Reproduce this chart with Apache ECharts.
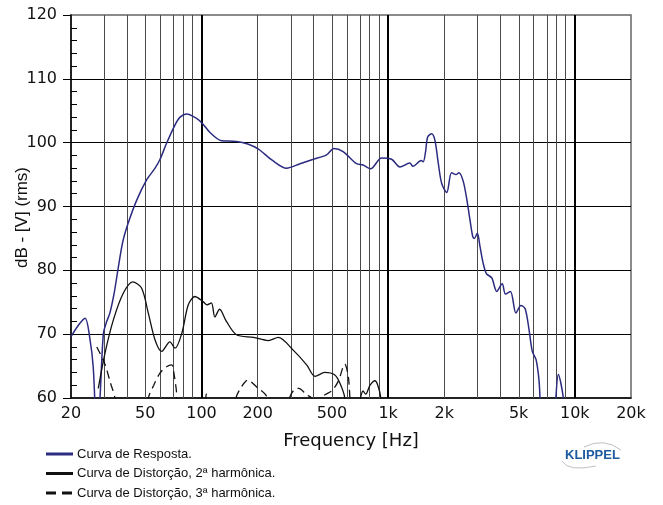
<!DOCTYPE html>
<html>
<head>
<meta charset="utf-8">
<script src="https://cdn.jsdelivr.net/npm/echarts@6/dist/echarts.min.js"></script>
<style>
  html, body { margin: 0; padding: 0; background: #fff; }
  #chart { width: 663px; height: 505px; }
</style>
</head>
<body>
<div id="chart"></div>
<script>
// ---- Data ----
const xTickFreqs = [20, 50, 100, 200, 500, 1000, 2000, 5000, 10000, 20000];
const xTickLabels = ['20', '50', '100', '200', '500', '1k', '2k', '5k', '10k', '20k'];
const gridFreqs = [30, 40, 50, 60, 70, 80, 90, 100, 200, 300, 400, 500, 600, 700, 800, 900,
                   1000, 2000, 3000, 4000, 5000, 6000, 7000, 8000, 9000, 10000];
const decadeFreqs = [100, 1000, 10000];

const respFreq = [20, 21.9, 23.8, 25.3, 26.3, 27.0, 27.7, 28.6, 29.8, 30.9, 32.3, 34.1, 35.9, 37.9, 40.5,
  45, 50.9, 56.4, 60, 65, 72.2, 76.8, 83.3, 94.2, 102, 111, 128, 154, 177, 202, 238, 286, 337, 398,
  468, 512, 574, 677, 734, 806, 922, 1044, 1156, 1306, 1358, 1504, 1542, 1587, 1628, 1710, 1780, 1856,
  1936, 2060, 2186, 2310, 2392, 2528, 2660, 2744, 2838, 2894, 3004, 3106, 3230, 3360, 3592, 3816,
  4084, 4250, 4520, 4840, 5140, 5420, 5680, 5920, 6200, 6420, 6510, 6700, 7700, 7926, 8160, 8680, 9100];
const respDb = [69.6, 71.4, 72.5, 69.1, 64.9, 58, 54, 60, 70, 71.8, 73.3, 76.5, 80.6, 84.5, 87.4,
  91.0, 94.2, 96.0, 97.4, 99.9, 102.8, 104.0, 104.5, 103.8, 102.9, 101.6, 100.3, 100.2, 99.8, 99.0, 97.3, 96.0, 96.7, 97.4,
  98.1, 99.1, 98.6, 96.7, 96.5, 95.9, 97.6, 97.4, 96.2, 96.8, 96.3, 97.2, 97.0, 98.6, 100.9, 101.4, 100.4, 96.8,
  93.6, 92.2, 95.3, 95.0, 95.3, 93.9, 90.5, 87.9, 85.3, 85.0, 85.8, 83.7, 81.1, 79.5, 78.8, 76.7,
  77.9, 76.3, 76.7, 73.3, 74.5, 74.0, 70.8, 67.3, 66.0, 63.0, 60.0, 52, 52, 60.2, 63.7, 60, 52];

const h2Freq = [28.0, 30.4, 33.7, 38.1, 42.8, 47.8, 51.9, 56.4, 61.2, 67.7, 72.2, 78.4, 85, 92.2, 102,
  107, 113, 118, 125, 136, 154, 190, 228, 258, 310, 366, 406, 458, 518, 552, 586, 610, 690, 712,
  734, 758, 800, 850, 880, 914, 950];
const h2Db = [61.5, 67.0, 72.2, 76.4, 78.2, 77.2, 73.3, 69.1, 67.3, 68.8, 67.8, 70.1, 74.6, 75.9, 75.1,
  74.6, 74.9, 72.7, 73.9, 72.0, 69.9, 69.5, 69.0, 69.5, 67.5, 65.2, 63.4, 64.0, 63.6, 62.3, 60, 54, 54, 60,
  61.1, 60.6, 62.0, 62.7, 62.0, 60, 54];

const h3Freq = [27.5, 28.6, 30.4, 32.6, 34.4, 35.5, 49, 51.9, 55.5, 59.9, 65, 69.2, 71.5, 73.6, 75,
  103, 106, 109, 148, 153, 165, 177, 198, 224, 235, 285, 298, 317, 332, 366, 389, 410, 430, 441,
  498, 540, 574, 586, 612, 624, 640];
const h3Db = [68.0, 67.0, 65.3, 62.3, 60, 55, 55, 60, 62.0, 63.9, 64.9, 65.2, 63.5, 60.7, 55,
  57, 60.6, 57, 55, 60, 61.9, 62.8, 61.7, 60.2, 56, 56, 60.2, 61.4, 61.5, 60.5, 60, 58, 58, 60.1,
  61.1, 62.6, 64.9, 65.3, 63.3, 60, 55];

const seriesNames = ['Curva de Resposta.', 'Curva de Distorção, 2ª harmônica.', 'Curva de Distorção, 3ª harmônica.'];

// ---- Build ----
const toXY = (fs, ds) => fs.map((f, i) => [Math.log10(f), ds[i]]);
const tickFont = 'DejaVu Sans';
const textFont = 'Liberation Sans, Arial, sans-serif';
const colors = ['#2b2b80', '#111', '#111'];
const dashes = ['solid', 'solid', [10, 6]];

const chart = echarts.init(document.getElementById('chart'), null, { renderer: 'canvas' });

// legend drawn as graphic items (line sample + text) for exact placement
const legendGraphics = [];
seriesNames.forEach((name, i) => {
  const y = 454 + i * 19.5;
  legendGraphics.push({
    type: 'line',
    shape: { x1: 46, y1: y, x2: 73, y2: y },
    style: { stroke: colors[i], lineWidth: 3, lineDash: dashes[i] === 'solid' ? null : dashes[i] }
  });
  legendGraphics.push({
    type: 'text',
    x: 77, y: y,
    style: { text: name, fontFamily: textFont, fontSize: 13, fill: '#111', verticalAlign: 'middle', align: 'left' }
  });
});

chart.setOption({
  animation: false,
  backgroundColor: '#fff',
  grid: { left: 71, right: 32, top: 15, bottom: 107, containLabel: false, outerBoundsMode: 'none',
          show: true, borderColor: '#666', borderWidth: 1.5, backgroundColor: 'transparent' },
  xAxis: {
    type: 'value',
    min: Math.log10(20),
    max: Math.log10(20000),
    axisLine: { show: true, onZero: false, lineStyle: { color: '#000', width: 1.5 } },
    axisTick: { show: false },
    splitLine: { show: false },
    axisLabel: {
      customValues: xTickFreqs.map(f => Math.log10(f)),
      formatter: function (v) {
        let best = 0, bd = Infinity;
        xTickFreqs.forEach((f, i) => { const d = Math.abs(Math.log10(f) - v); if (d < bd) { bd = d; best = i; } });
        return xTickLabels[best];
      },
      margin: 8,
      fontFamily: tickFont,
      fontSize: 16,
      color: '#111'
    },
    name: 'Frequency [Hz]',
    nameLocation: 'middle',
    nameGap: 34,
    nameMoveOverlap: false,
    nameTextStyle: { fontFamily: tickFont, fontSize: 18, color: '#111' }
  },
  yAxis: {
    type: 'value',
    min: 60,
    max: 120,
    interval: 10,
    axisLine: { show: true, lineStyle: { color: '#000', width: 1.5 } },
    axisTick: { show: true, length: 8, lineStyle: { color: '#000', width: 1 } },
    minorTick: { show: true, splitNumber: 5, length: -6, lineStyle: { color: '#000', width: 1 } },
    splitLine: { show: true, showMinLine: false, showMaxLine: false, lineStyle: { color: '#000', width: 1 } },
    axisLabel: { margin: 14, fontFamily: tickFont, fontSize: 16, color: '#111' },
    name: 'dB - [V] (rms)',
    nameLocation: 'middle',
    nameGap: 40,
    nameMoveOverlap: false,
    nameTextStyle: { fontFamily: textFont, fontSize: 17, color: '#111', padding: [0, 22, 0, 0] }
  },
  series: [
    {
      type: 'line',
      name: 'grid',
      data: [],
      silent: true,
      markLine: {
        silent: true,
        z: 1,
        animation: false,
        symbol: ['none', 'none'],
        label: { show: false },
        emphasis: { disabled: true },
        lineStyle: { type: 'solid' },
        data: gridFreqs.map(f => ({
          xAxis: Math.log10(f),
          lineStyle: decadeFreqs.includes(f)
            ? { color: '#000', width: 2, type: 'solid' }
            : { color: '#4a4a4a', width: 1, type: 'solid' }
        }))
      }
    },
    {
      type: 'line',
      name: seriesNames[0],
      data: toXY(respFreq, respDb),
      symbol: 'none',
      smooth: 0.3,
      z: 3,
      lineStyle: { color: colors[0], width: 1.5 },
      itemStyle: { color: colors[0] }
    },
    {
      type: 'line',
      name: seriesNames[1],
      data: toXY(h2Freq, h2Db),
      symbol: 'none',
      smooth: 0.3,
      z: 3,
      lineStyle: { color: colors[1], width: 1.3 },
      itemStyle: { color: colors[1] }
    },
    {
      type: 'line',
      name: seriesNames[2],
      data: toXY(h3Freq, h3Db),
      symbol: 'none',
      smooth: 0.3,
      z: 3,
      lineStyle: { color: colors[2], width: 1.3, type: [8, 5] },
      itemStyle: { color: colors[2] }
    }
  ],
  graphic: legendGraphics.concat([
    {
      type: 'text',
      left: 565,
      top: 449,
      style: { text: 'KLIPPEL', fontFamily: textFont, fontWeight: 'bold', fontSize: 13, fill: '#1e5aa0' }
    },
    {
      type: 'bezierCurve',
      shape: { x1: 584, y1: 447, cpx1: 604, cpy1: 437, x2: 621, y2: 450 },
      style: { stroke: '#b0b0b0', lineWidth: 0.8, fill: null }
    },
    {
      type: 'bezierCurve',
      shape: { x1: 562, y1: 461, cpx1: 568, cpy1: 472, x2: 596, y2: 466 },
      style: { stroke: '#b0b0b0', lineWidth: 0.8, fill: null }
    }
  ])
});
</script>
</body>
</html>
